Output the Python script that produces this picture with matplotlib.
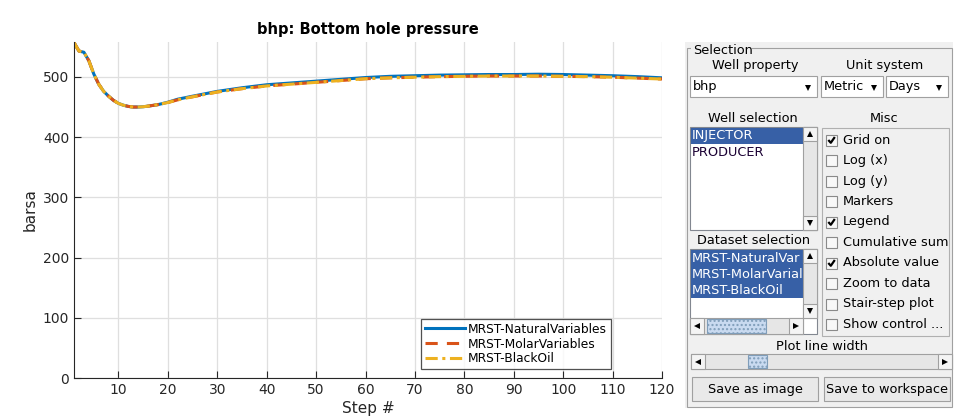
"""
bhp plot from the MRST well plotter, with the selection panel drawn next to it
"""

import numpy as np
import matplotlib.pyplot as plt
from matplotlib.patches import Rectangle

# data
steps = [1, 2, 3, 4, 5, 6, 7, 8, 9, 10, 11, 12, 13, 14, 15, 16, 18, 20, 22, 25,
         30, 35, 40, 45, 50, 55, 60, 65, 70, 75, 80, 85, 90, 95, 100, 105, 110, 115, 120]
natural = [557, 543, 541, 527, 505, 488, 476, 468, 461, 456, 453, 451, 450, 450, 450.5, 451.5, 454, 458, 463, 468,
           476, 482, 487, 490, 493, 496, 499, 501, 502, 503, 503.5, 504, 504, 504.5, 504, 503, 502, 500.5, 498.5]
molar = [557, 543, 541, 527, 505, 488, 476, 468, 461, 456, 453, 451, 450, 450, 450.5, 451.5, 454, 457.5, 462, 467,
         475, 480.5, 485, 488, 491, 494, 497, 498.5, 499.5, 500.5, 501, 501.5, 501.5, 501.5, 501, 500.5, 499.5, 498, 496.5]
blackoil = [557, 543, 541, 527, 505, 488, 476, 468, 461, 456, 453, 451, 450, 450, 450.5, 451.5, 454, 457.5, 462, 467,
            475, 480.5, 485, 488, 491, 494, 497, 498.5, 499.5, 500.5, 501, 501.5, 501.5, 501.5, 501, 500.5, 499.5, 498, 496.5]
labels = ['MRST-NaturalVariables', 'MRST-MolarVariables', 'MRST-BlackOil']
wells = ['INJECTOR', 'PRODUCER']
datasets = ['MRST-NaturalVar', 'MRST-MolarVarial', 'MRST-BlackOil']
misc = ['Grid on', 'Log (x)', 'Log (y)', 'Markers', 'Legend', 'Cumulative sum',
        'Absolute value', 'Zoom to data', 'Stair-step plot', 'Show control ...']
misc_on = [True, False, False, False, True, False, True, False, False, False]

ink = '#262626'
fig = plt.figure(figsize=(9.8, 4.2), dpi=100)
fig.patch.set_facecolor('white')

ax = fig.add_axes([74 / 980, 1 - 378 / 420, 588 / 980, 336 / 420])
ax.plot(steps, natural, color='#0072bd', lw=2.2, ls='-', label=labels[0])
ax.plot(steps, molar, color='#d95319', lw=2.2, ls=(0, (4, 3)), label=labels[1])
ax.plot(steps, blackoil, color='#edb120', lw=2.2, ls=(0, (4, 1.5, 1, 1.5)), label=labels[2])
ax.set_xlim(1, 120)
ax.set_ylim(0, 558)
ax.set_xticks(np.arange(10, 121, 10))
ax.set_yticks(np.arange(0, 501, 100))
ax.grid(True, color='#dfdfdf', lw=0.9)
ax.set_axisbelow(True)
for s in ['top', 'right']:
    ax.spines[s].set_visible(False)
for s in ['left', 'bottom']:
    ax.spines[s].set_color(ink)
ax.tick_params(direction='in', length=5, colors=ink, labelsize=10)
ax.set_title('bhp: Bottom hole pressure', fontsize=10.5, fontweight='bold', pad=6)
ax.set_xlabel('Step #', fontsize=11, color=ink, labelpad=3)
ax.set_ylabel('barsa', fontsize=11, color=ink, labelpad=4)
leg = ax.legend(loc='lower left', bbox_to_anchor=((421 - 74) / 588, (378 - 369) / 336),
                fontsize=8.8, frameon=True, fancybox=False, borderpad=0.3,
                handlelength=3.3, handletextpad=0.25, labelspacing=0.15, borderaxespad=0)
leg.get_frame().set_edgecolor(ink)
leg.get_frame().set_linewidth(0.9)

# ---- the gui panel, in pixel coords
ov = fig.add_axes([0, 0, 1, 1])
ov.set_xlim(0, 980)
ov.set_ylim(420, 0)
ov.axis('off')
ov.set_zorder(5)

fs = 9.3
sel = '#3760a6'


def box(x0, y0, x1, y1, fc='white', ec='#828790', lw=0.8, **kw):
    ov.add_patch(Rectangle((x0, y0), x1 - x0, y1 - y0, facecolor=fc, edgecolor=ec, lw=lw, **kw))


def txt(x, y, s, ha='left', color='black', size=fs):
    ov.text(x, y, s, ha=ha, va='center', fontsize=size, color=color)


def tri(x, y, m, size=4):
    ov.plot([x], [y], marker=m, color='black', ms=size, mew=0)


def popup(x0, y0, x1, y1, s):
    box(x0, y0, x1, y1, fc='white', ec='#a0a0a0')
    txt(x0 + 3, (y0 + y1) / 2, s)
    tri(x1 - 9, (y0 + y1) / 2 + 1, 'v', 5)


def vscroll(x0, y0, x1, y1):
    box(x0, y0, x1, y1, fc='#e6e6e6', ec='#a0a0a0')
    box(x0, y0, x1, y0 + 14, fc='#f4f4f4', ec='#a0a0a0')
    box(x0, y1 - 14, x1, y1, fc='#f4f4f4', ec='#a0a0a0')
    tri((x0 + x1) / 2, y0 + 7, '^', 5)
    tri((x0 + x1) / 2, y1 - 7, 'v', 5)


def hscroll(x0, y0, x1, y1, t0, t1):
    box(x0, y0, x1, y1, fc='#e6e6e6', ec='#a0a0a0')
    box(x0, y0, x0 + 14, y1, fc='#f4f4f4', ec='#a0a0a0')
    box(x1 - 14, y0, x1, y1, fc='#f4f4f4', ec='#a0a0a0')
    tri(x0 + 7, (y0 + y1) / 2, '<', 5)
    tri(x1 - 7, (y0 + y1) / 2, '>', 5)
    box(t0, y0 + 1, t1, y1 - 1, fc='#c9daf0', ec='#7f9db9', hatch='....')


# panel background + frame
box(685, 42, 953, 408, fc='#f0f0f0', ec='none', lw=0)
box(687, 48, 952, 407, fc='none', ec='#a0a0a0', lw=0.8)
box(691, 42, 752, 55, fc='#f0f0f0', ec='none', lw=0)
txt(693, 50, 'Selection')

txt(755, 66, 'Well property', ha='center')
txt(885, 66, 'Unit system', ha='center')
popup(690, 76, 817, 97, 'bhp')
popup(821, 76, 883, 97, 'Metric')
popup(886, 76, 948, 97, 'Days')

txt(753, 118, 'Well selection', ha='center')
txt(884, 118, 'Misc', ha='center')

# well list
box(690, 127, 817, 230, fc='white', ec='#828790')
box(691, 128, 803, 144, fc=sel, ec='none', lw=0)
for i, w in enumerate(wells):
    txt(692, 136 + 16 * i, w, color='white' if i == 0 else '#1a0033')
vscroll(803, 127, 817, 230)

# misc checkboxes
box(822, 128, 949, 336, fc='#f0f0f0', ec='#b0b0b0')
for i, (m, on) in enumerate(zip(misc, misc_on)):
    y = 140 + 20.5 * i
    box(826, y - 5.5, 837, y + 5.5, fc='#f8f8f8', ec='#8a8a8a')
    if on:
        ov.plot([828.3, 830.8, 834.8], [y, y + 2.8, y - 3], color='black', lw=1.6,
                solid_capstyle='butt')
    txt(843, y, m)

# dataset list
txt(754, 240, 'Dataset selection', ha='center')
box(690, 249, 817, 334, fc='white', ec='#828790')
box(691, 250, 803, 298, fc=sel, ec='none', lw=0)
for i, d in enumerate(datasets):
    ov.text(692, 258.5 + 16 * i, d, ha='left', va='center', fontsize=fs, color='white',
            clip_on=True, clip_box=None).set_clip_path(
        Rectangle((690, 249), 113, 60, transform=ov.transData))
vscroll(803, 249, 817, 318)
hscroll(690, 318, 803, 334, 707, 766)

# line width slider + buttons
txt(822, 347, 'Plot line width', ha='center')
hscroll(691, 354, 952, 369, 748, 767)
box(692, 377, 818, 401, fc='#e9e9e9', ec='#a0a0a0')
box(824, 377, 950, 401, fc='#e9e9e9', ec='#a0a0a0')
txt(755, 389, 'Save as image', ha='center')
txt(887, 389, 'Save to workspace', ha='center')

fig.savefig('out.png', dpi=100)
